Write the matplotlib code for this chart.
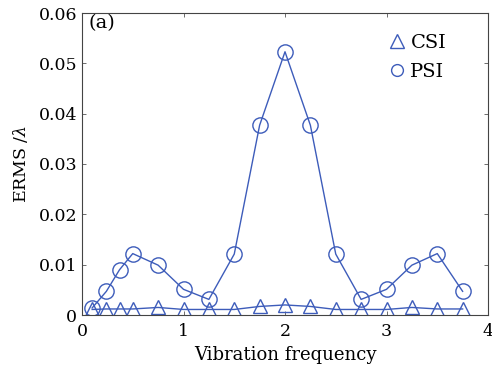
import numpy as np
import matplotlib
matplotlib.use("Agg")
import matplotlib.pyplot as plt
from matplotlib.lines import Line2D

# ERMS of CSI vs PSI against vibration frequency
freq = [0.1, 0.24, 0.37, 0.5, 0.75, 1.0, 1.25, 1.5, 1.75, 2.0,
        2.25, 2.5, 2.75, 3.0, 3.25, 3.5, 3.75]
psi = [0.0014, 0.0047, 0.0090, 0.0122, 0.0099, 0.0051, 0.0031, 0.0121, 0.0377, 0.0523,
       0.0377, 0.0121, 0.0031, 0.0051, 0.0099, 0.0122, 0.0047]
csi = [0.0011, 0.0012, 0.0012, 0.0012, 0.0015, 0.0011, 0.0011, 0.0011, 0.0017, 0.0020,
       0.0017, 0.0011, 0.0011, 0.0011, 0.0015, 0.0012, 0.0012]

blue = "#3d5cba"
plt.rcParams["font.family"] = ["DejaVu Serif"]
plt.rcParams["mathtext.fontset"] = "dejavuserif"

fig = plt.figure(figsize=(4.92, 3.71), dpi=100)
ax = fig.add_axes([82 / 492, 1 - 315 / 371, (488 - 82) / 492, (315 - 13) / 371])

ax.plot(freq, csi, color=blue, lw=1.0, marker="^", ms=10.5, mfc="none", mec=blue, mew=1.0)
ax.plot(freq, psi, color=blue, lw=1.0, marker="o", ms=11, mfc="none", mec=blue, mew=1.0)

ax.set_xlim(0, 4)
ax.set_ylim(0, 0.06)
ax.set_xticks([0, 1, 2, 3, 4])
ax.set_yticks([0, 0.01, 0.02, 0.03, 0.04, 0.05, 0.06])
ax.set_yticklabels(["0", "0.01", "0.02", "0.03", "0.04", "0.05", "0.06"])
ax.tick_params(direction="in", top=True, right=True, length=3, width=0.6,
               labelsize=12.5, color="#555555")
ax.tick_params(axis="x", pad=6)
for s in ax.spines.values():
    s.set_linewidth(0.8)
    s.set_color("#444444")

ax.set_xlabel("Vibration frequency", fontsize=13, labelpad=4)
ax.set_ylabel(r"ERMS /$\lambda$", fontsize=12.5, labelpad=6)
ax.text(0.015, 0.995, "(a)", transform=ax.transAxes, fontsize=14, va="top", ha="left")

handles = [
    Line2D([], [], ls="none", marker="^", ms=10, mfc="none", mec=blue, mew=1.0, label="CSI"),
    Line2D([], [], ls="none", marker="o", ms=8.5, mfc="none", mec=blue, mew=1.0, label="PSI"),
]
ax.legend(handles=handles, loc="upper right", frameon=False, fontsize=14,
          handlelength=0.8, handletextpad=0.3, labelspacing=0.6,
          bbox_to_anchor=(0.94, 0.99))

fig.savefig("out.png", dpi=100)
